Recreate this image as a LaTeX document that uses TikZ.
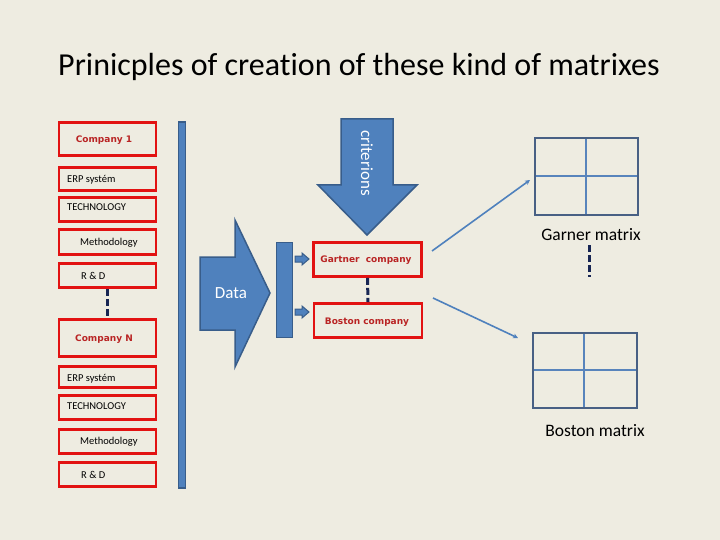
\documentclass[tikz,border=0pt]{standalone}
\usepackage{fontspec}
\setmainfont[Ligatures={NoCommon,NoRare,NoContextual}]{Carlito}
\newfontfamily\boldface{DejaVu Sans}
\usetikzlibrary{arrows.meta}
\definecolor{bgc}{RGB}{238,236,225}
\definecolor{blueF}{RGB}{79,129,189}
\definecolor{blueD}{RGB}{56,93,138}
\definecolor{redB}{RGB}{226,18,18}
\definecolor{redT}{RGB}{185,36,36}
\definecolor{navy}{RGB}{24,38,84}
\definecolor{matD}{RGB}{72,96,132}
\definecolor{matL}{RGB}{88,132,188}
\tikzset{
  rbox/.style={draw=redB, line width=2.6pt, minimum width=97pt, inner sep=0pt},
  smalltxt/.style={font=\fontsize{10.5}{11}\selectfont, inner sep=0pt, anchor=west},
  cotxt/.style={font=\boldface\bfseries\fontsize{9}{10}\selectfont, text=redT, inner sep=0pt},
  blueshape/.style={fill=blueF, draw=blueD, line width=1.5pt},
  dashv/.style={draw=navy, line width=3pt, dash pattern=on 7pt off 3pt},
  link/.style={draw=blueF, line width=1.6pt, -{Stealth[length=5pt,width=5pt]}},
  bigtxt/.style={font=\fontsize{17}{19}\selectfont, inner sep=0pt},
  mtxt/.style={font=\fontsize{17.5}{19}\selectfont, inner sep=0pt},
}
\begin{document}
\begin{tikzpicture}[x=1pt,y=-1pt]
\fill[bgc] (0,0) rectangle (720,540);
\useasboundingbox (0,0) rectangle (720,540);
% title
\node[font=\fontsize{32}{36}\selectfont, inner sep=0pt] (title) at (359,67) {Prinicples of creat\kern0pt ion of these kind of matrixes};

% left column, group 1
\node[rbox, minimum height=33pt] (c1) at (107.5,139) {};
\node[cotxt] (c1t) at (104,140) {Company 1};
\node[rbox, minimum height=23pt] (erp1) at (107.5,179) {};
\node[smalltxt] (erp1t) at (67,180) {ERP systém};
\node[rbox, minimum height=24pt] (tec1) at (107.5,209.5) {};
\node[smalltxt] (tec1t) at (67,207) {TECHNOLOGY};
\node[rbox, minimum height=25pt] (met1) at (107.5,242) {};
\node[smalltxt] (met1t) at (80,243) {Methodology};
\node[rbox, minimum height=24pt] (rd1) at (107.5,275.5) {};
\node[smalltxt] (rd1t) at (81,276) {R \& D};
% group N
\node[rbox, minimum height=37pt] (cn) at (107.5,338) {};
\node[cotxt] (cnt) at (104,339) {Company N};
\node[rbox, minimum height=21pt] (erp2) at (107.5,377) {};
\node[smalltxt] (erp2t) at (67,379) {ERP systém};
\node[rbox, minimum height=24pt] (tec2) at (107.5,407.5) {};
\node[smalltxt] (tec2t) at (67,406) {TECHNOLOGY};
\node[rbox, minimum height=24pt] (met2) at (107.5,441.5) {};
\node[smalltxt] (met2t) at (80,442) {Methodology};
\node[rbox, minimum height=24pt] (rd2) at (107.5,474.5) {};
\node[smalltxt] (rd2t) at (81,475) {R \& D};
\draw[dashv] (rd1.south) -- (cn.north);

% vertical bar
\node[blueshape, minimum width=7pt, minimum height=366pt, inner sep=0pt] (bar) at (182,305) {};

% Data arrow
\draw[blueshape] (200,257) -- (235,257) -- (235,220) -- (270,293) -- (235,367) -- (235,330) -- (200,330) -- cycle;
\node[bigtxt, text=white] (data) at (231,293) {Data};

% criterions arrow
\draw[blueshape] (341,119) -- (393,119) -- (393,185) -- (417,185) -- (367,235) -- (318,185) -- (341,185) -- cycle;
\node[bigtxt, text=white, rotate=-90] (crit) at (367,163) {crit\kern0pt erions};

% small vertical rectangle
\node[blueshape, minimum width=16pt, minimum height=95pt, inner sep=0pt] (sbar) at (284.5,290) {};

% small arrows
\draw[blueshape, line width=1pt] (295,256) -- (302,256) -- (302,253) -- (309,259) -- (302,265) -- (302,262) -- (295,262) -- cycle;
\draw[blueshape, line width=1pt] (295,309) -- (302,309) -- (302,306) -- (309,312) -- (302,318) -- (302,315) -- (295,315) -- cycle;

% company boxes
\node[rbox, minimum width=108pt, minimum height=34pt] (gart) at (367.5,259.5) {};
\node[cotxt] (gartt) at (366,260) {Gartner\ \ company};
\node[rbox, minimum width=108pt, minimum height=34pt] (bost) at (368,320.5) {};
\node[cotxt] (bostt) at (367,322) {Boston company};
\draw[dashv] (gart.south) -- (bost.north);

% top matrix
\draw[matL, line width=2pt] (586,138) -- (586,215) (535,176) -- (638,176);
\draw[matD, line width=2.6pt] (535,138) rectangle (638,215);
\coordinate (m1) at (530,180);
\node[mtxt] (gm) at (591,235) {Garner matrix};
\coordinate (gmd1) at (589,245);
\coordinate (gmd2) at (589,277);
\draw[dashv] (gmd1) -- (gmd2);

% bottom matrix
\draw[matL, line width=2pt] (584,333) -- (584,408) (533,370) -- (637,370);
\draw[matD, line width=2.6pt] (533,333) rectangle (637,408);
\coordinate (m2) at (518,338);
\node[mtxt] (bm) at (595,431) {Boston matrix};

% links
\coordinate (g1) at (432,251);
\coordinate (b1) at (433,298);
\draw[link] (g1) -- (m1);
\draw[link] (b1) -- (m2);
\end{tikzpicture}
\end{document}
